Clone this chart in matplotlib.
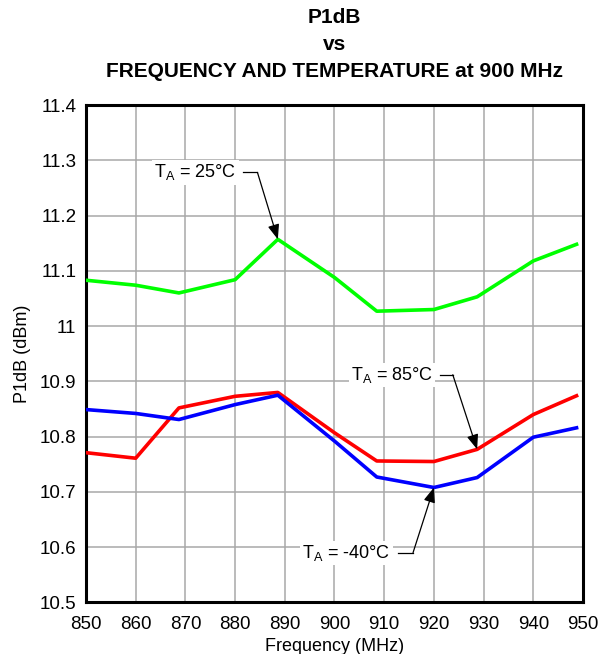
import matplotlib
matplotlib.use("Agg")
import matplotlib.pyplot as plt
from matplotlib.ticker import FuncFormatter

plt.rcParams["font.family"] = ["Liberation Sans", "DejaVu Sans"]
plt.rcParams["mathtext.fontset"] = "custom"
plt.rcParams["mathtext.rm"] = "Liberation Sans"

freq = [850, 860, 868.7, 880, 888.6, 900, 908.5, 920, 928.7, 940, 948.7]
p1db_25c = [11.083, 11.074, 11.060, 11.084, 11.157, 11.088, 11.027, 11.030, 11.053, 11.118, 11.148]
p1db_85c = [10.771, 10.761, 10.852, 10.873, 10.880, 10.807, 10.756, 10.755, 10.777, 10.840, 10.874]
p1db_m40c = [10.849, 10.842, 10.831, 10.858, 10.875, 10.792, 10.727, 10.708, 10.726, 10.799, 10.816]

fig = plt.figure(figsize=(6.0, 6.54), dpi=100)
ax = fig.add_axes([0.1433, 0.0788, 0.8284, 0.7606])

ax.plot(freq, p1db_25c, color="#00ff00", lw=2.6, zorder=3)
ax.plot(freq, p1db_85c, color="#ff0000", lw=2.6, zorder=3)
ax.plot(freq, p1db_m40c, color="#0000ff", lw=2.6, zorder=3)

ax.set_xlim(850, 950)
ax.set_ylim(10.5, 11.4)
ax.set_xticks(range(850, 951, 10))
ax.set_yticks([10.5 + 0.1 * i for i in range(10)])
ax.yaxis.set_major_formatter(FuncFormatter(lambda v, p: f"{round(v, 1):g}"))
ax.tick_params(length=0, labelsize=13.5)
ax.tick_params(axis="x", pad=10)
ax.tick_params(axis="y", pad=7)
ax.grid(True, color="#a8a8a8", lw=1.1)
ax.set_axisbelow(True)
for s in ax.spines.values():
    s.set_linewidth(2.2)

ax.set_xlabel("Frequency (MHz)", fontsize=13, labelpad=3)
ax.set_ylabel("P1dB (dBm)", fontsize=13, labelpad=6)
ax.set_title("P1dB\nvs\nFREQUENCY AND TEMPERATURE at 900 MHz",
             fontsize=15, fontweight="bold", linespacing=1.55, pad=20)

box = dict(facecolor="white", edgecolor="none", pad=1.5)
arrow = dict(arrowstyle="-|>,head_length=0.9,head_width=0.35", color="black", lw=0.9,
             shrinkA=0, shrinkB=0)

def label(text, tx, ty, x0, x1, tip):
    ax.text(tx, ty, text, ha="center", va="center", fontsize=13, bbox=box, zorder=4)
    ax.plot([x0, x1], [ty, ty], color="black", lw=0.9, zorder=4)
    ax.annotate("", xy=tip, xytext=(x1, ty), arrowprops=arrow, zorder=5)

label(r"T$_\mathregular{A}$ = 25°C", 872.0, 11.278, 881.5, 884.5, (freq[4], p1db_25c[4]))
label(r"T$_\mathregular{A}$ = 85°C", 911.6, 10.912, 921.2, 923.8, (freq[8], p1db_85c[8]))
label(r"T$_\mathregular{A}$ = -40°C", 902.4, 10.590, 912.8, 915.8, (freq[7], p1db_m40c[7]))

fig.savefig("out.png", dpi=100)
